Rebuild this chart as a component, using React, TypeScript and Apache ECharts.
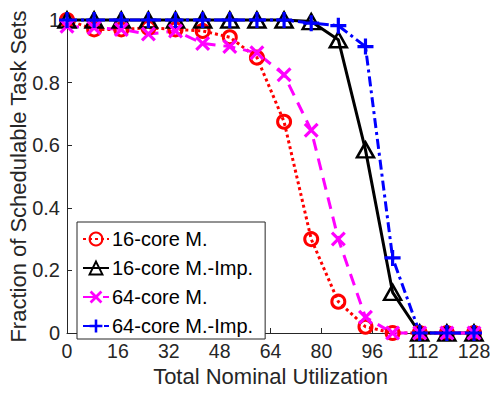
import React, { useEffect, useRef } from "react";
import * as echarts from "echarts";

const utilization = [0, 8.53, 17.07, 25.6, 34.13, 42.67, 51.2, 59.73, 68.27, 76.8, 85.33, 93.87, 102.4, 110.93, 119.47, 128];
const core16M = [1.0, 0.97, 0.97, 0.975, 0.97, 0.965, 0.945, 0.88, 0.675, 0.3, 0.1, 0.02, 0, 0, 0, 0];
const core16MImp = [1, 1, 1, 1, 1, 1, 1, 1, 1, 0.995, 0.937, 0.585, 0.13, 0, 0, 0];
const core64M = [0.98, 0.975, 0.97, 0.955, 0.965, 0.925, 0.915, 0.895, 0.825, 0.648, 0.3, 0.05, 0, 0, 0, 0];
const core64MImp = [1, 1, 1, 1, 1, 1, 1, 1, 1, 0.99, 0.982, 0.915, 0.24, 0, 0, 0];
const seriesNames = ["16-core M.", "16-core M.-Imp.", "64-core M.", "64-core M.-Imp."];
const xTitle = "Total Nominal Utilization";
const yTitle = "Fraction of Schedulable Task Sets";

const FONT = "'Liberation Sans', Arial, Helvetica, sans-serif";
const AXIS = "#262626";

const plusPath = "path://M4,0H6V4H10V6H6V10H4V6H0V4H4Z";
const crossPath = "path://M0,1.5L1.5,0L5,3.5L8.5,0L10,1.5L6.5,5L10,8.5L8.5,10L5,6.5L1.5,10L0,8.5L3.5,5Z";

function pairs(ys: number[]) {
  return utilization.map((x, i) => [x, ys[i]]);
}

export default function App() {
  const ref = useRef<HTMLDivElement>(null);
  useEffect(() => {
    if (!ref.current) return;
    const chart = echarts.init(ref.current, null, { renderer: "svg" });
    chart.setOption({
      animation: false,
      backgroundColor: "#ffffff",
      grid: { left: 67, right: 16, top: 20, bottom: 60, containLabel: false, outerBoundsMode: "none" },
      xAxis: {
        type: "value",
        min: 0,
        max: 128,
        interval: 16,
        name: xTitle,
        nameLocation: "middle",
        nameGap: 30,
        nameTextStyle: { fontFamily: FONT, fontSize: 22, color: AXIS },
        axisLine: { show: true, lineStyle: { color: AXIS, width: 1 } },
        axisTick: { show: true, inside: true, length: 5, lineStyle: { color: AXIS } },
        axisLabel: { fontFamily: FONT, fontSize: 19.5, color: AXIS, margin: 8 },
        splitLine: { show: false },
      },
      yAxis: {
        type: "value",
        min: 0,
        max: 1,
        interval: 0.2,
        name: yTitle,
        nameLocation: "middle",
        nameGap: 38,
        nameMoveOverlap: false,
        nameRotate: 90,
        nameTextStyle: { fontFamily: FONT, fontSize: 22, color: AXIS },
        axisLine: { show: true, lineStyle: { color: AXIS, width: 1 } },
        axisTick: { show: true, inside: true, length: 5, lineStyle: { color: AXIS } },
        axisLabel: { fontFamily: FONT, fontSize: 20, color: AXIS, margin: 7 },
        splitLine: { show: false },
      },
      legend: {
        left: 77,
        top: 222,
        orient: "vertical",
        data: seriesNames,
        itemWidth: 26,
        itemHeight: 16,
        itemGap: 9,
        padding: [7, 12, 3, 5],
        borderColor: AXIS,
        borderWidth: 1,
        backgroundColor: "#ffffff",
        textStyle: { fontFamily: FONT, fontSize: 20, color: "#000000", padding: [0, 0, 0, -2] },
      },
      series: [
        {
          name: seriesNames[0],
          type: "line",
          data: pairs(core16M),
          symbol: "circle",
          symbolSize: 13,
          clip: false,
          lineStyle: { color: "#ff0000", width: 3, type: [3, 3] },
          itemStyle: { color: "rgba(255,255,255,0)", borderColor: "#ff0000", borderWidth: 3 },
        },
        {
          name: seriesNames[1],
          type: "line",
          data: pairs(core16MImp),
          symbol: "triangle",
          symbolSize: [17, 15],
          clip: false,
          lineStyle: { color: "#000000", width: 3, type: "solid" },
          itemStyle: { color: "rgba(255,255,255,0)", borderColor: "#000000", borderWidth: 2.5 },
        },
        {
          name: seriesNames[2],
          type: "line",
          data: pairs(core64M),
          symbol: crossPath,
          symbolSize: 15,
          clip: false,
          lineStyle: { color: "#ff00ff", width: 3, type: [12, 8] },
          itemStyle: { color: "#ff00ff", borderWidth: 0 },
        },
        {
          name: seriesNames[3],
          type: "line",
          data: pairs(core64MImp),
          symbol: plusPath,
          symbolSize: 16,
          clip: false,
          lineStyle: { color: "#0000ff", width: 3, type: [10, 4, 3, 4] },
          itemStyle: { color: "#0000ff", borderWidth: 0 },
        },
      ],
    });
    return () => chart.dispose();
  }, []);
  return (
    <div
      ref={ref}
      style={{ position: "fixed", left: 0, top: 0, width: 490, height: 393, background: "#fff" }}
    />
  );
}
